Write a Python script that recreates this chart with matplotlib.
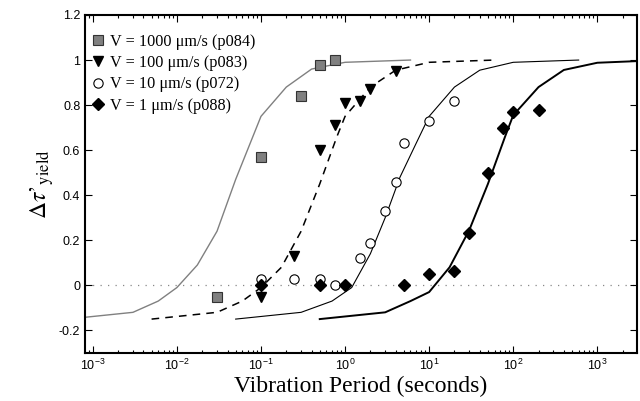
import numpy as np
import matplotlib
matplotlib.use("Agg")
import matplotlib.pyplot as plt
from matplotlib.ticker import FixedLocator, LogLocator, NullFormatter

plt.rcParams['font.family'] = ['Liberation Sans', 'DejaVu Sans']

# measured yield-strength change vs vibration period, one set per loading velocity
per_1000 = [0.03, 0.1, 0.3, 0.5, 0.75]
dty_1000 = [-0.05, 0.57, 0.84, 0.98, 1.0]

per_100 = [0.1, 0.25, 0.5, 0.75, 1, 1.5, 2, 4]
dty_100 = [-0.05, 0.13, 0.60, 0.71, 0.81, 0.82, 0.87, 0.95]

per_10 = [0.1, 0.25, 0.5, 0.75, 1.5, 2, 3, 4, 5, 10, 20]
dty_10 = [0.03, 0.03, 0.03, 0.0, 0.12, 0.19, 0.33, 0.46, 0.63, 0.73, 0.82]

per_1 = [0.1, 0.5, 1, 5, 10, 20, 30, 50, 75, 100, 200]
dty_1 = [0.0, 0.0, 0.0, 0.0, 0.05, 0.065, 0.23, 0.50, 0.70, 0.77, 0.78]

# model curves
fit_x_1000 = [0.0005, 0.003, 0.006, 0.01, 0.0175, 0.03, 0.05, 0.1, 0.2, 0.4, 1, 6]
fit_y_1000 = [-0.15, -0.12, -0.07, -0.01, 0.09, 0.24, 0.47, 0.75, 0.88, 0.96, 0.99, 1.0]

fit_x_100 = [0.005, 0.03, 0.06, 0.1, 0.175, 0.3, 0.5, 0.8, 1, 2, 4, 10, 60]
fit_y_100 = [-0.15, -0.12, -0.07, -0.01, 0.08, 0.24, 0.45, 0.66, 0.75, 0.88, 0.955, 0.99, 1.0]

fit_x_10 = [0.05, 0.3, 0.7, 1.2, 2, 3, 4.5, 7, 10, 20, 40, 100, 600]
fit_y_10 = [-0.15, -0.12, -0.07, -0.01, 0.14, 0.30, 0.48, 0.63, 0.75, 0.88, 0.955, 0.99, 1.0]

fit_x_1 = [0.5, 3, 6, 10, 17.5, 30, 50, 80, 100, 200, 400, 1000, 6000]
fit_y_1 = [-0.15, -0.12, -0.07, -0.03, 0.08, 0.245, 0.45, 0.66, 0.755, 0.88, 0.956, 0.988, 1.0]

labels = ['V = 1000 \u03bcm/s (p084)', 'V = 100 \u03bcm/s (p083)',
          'V = 10 \u03bcm/s (p072)', 'V = 1 \u03bcm/s (p088)']
xticks = [1e-3, 1e-2, 1e-1, 1e0, 1e1, 1e2, 1e3]

fig = plt.figure(figsize=(6.4, 4.01), dpi=100)
ax = fig.add_axes([0.133, 0.12, 0.862, 0.8426])

ax.axhline(0, color='#888888', lw=0.9, ls=(0, (1, 5)), zorder=1)

ax.plot(fit_x_1000, fit_y_1000, color='#808080', lw=1.0, zorder=2)
ax.plot(fit_x_100, fit_y_100, color='black', lw=1.1, ls=(0, (5, 4)), zorder=2)
ax.plot(fit_x_10, fit_y_10, color='black', lw=0.8, zorder=2)
ax.plot(fit_x_1, fit_y_1, color='black', lw=1.4, zorder=2)

h1, = ax.plot(per_1000, dty_1000, 's', ms=6.7, mfc='#808080', mec='#333333', mew=0.8, ls='none', zorder=3)
h2, = ax.plot(per_100, dty_100, 'v', ms=7.5, mfc='black', mec='black', ls='none', zorder=3)
h3, = ax.plot(per_10, dty_10, 'o', ms=6.7, mfc='white', mec='black', mew=0.8, ls='none', zorder=3)
h4, = ax.plot(per_1, dty_1, 'D', ms=6.0, mfc='black', mec='black', ls='none', zorder=3)

ax.set_xscale('log')
ax.set_xlim(8.1e-4, 2950)
ax.set_ylim(-0.3, 1.2)
ax.set_yticks(np.arange(-0.2, 1.21, 0.2))
ax.set_yticklabels(['-0.2', '0', '0.2', '0.4', '0.6', '0.8', '1', '1.2'])
ax.xaxis.set_major_locator(FixedLocator(xticks))
ax.xaxis.set_minor_locator(LogLocator(base=10, subs=np.arange(2, 10), numticks=20))
ax.xaxis.set_minor_formatter(NullFormatter())

ax.tick_params(which='both', direction='in', top=True, right=True, labelsize=9, width=0.8)
ax.tick_params(which='major', length=5)
ax.tick_params(which='minor', length=2.5)
for sp in ax.spines.values():
    sp.set_linewidth(1.5)

ax.set_xlabel('Vibration Period (seconds)', family='Liberation Serif', fontsize=17, labelpad=2)
ax.set_ylabel("$\\Delta\\tau\\mathrm{\u2019}_{\\mathrm{yield}}$", fontsize=17,
              math_fontfamily='stix', labelpad=2)

ax.legend([h1, h2, h3, h4], labels, loc='upper left', bbox_to_anchor=(0.012, 0.945),
          frameon=False, prop={'family': 'Liberation Serif', 'size': 11.7},
          handlelength=0.8, handletextpad=0.35, labelspacing=0.33, borderpad=0, borderaxespad=0)

fig.savefig('out.png', dpi=100)
